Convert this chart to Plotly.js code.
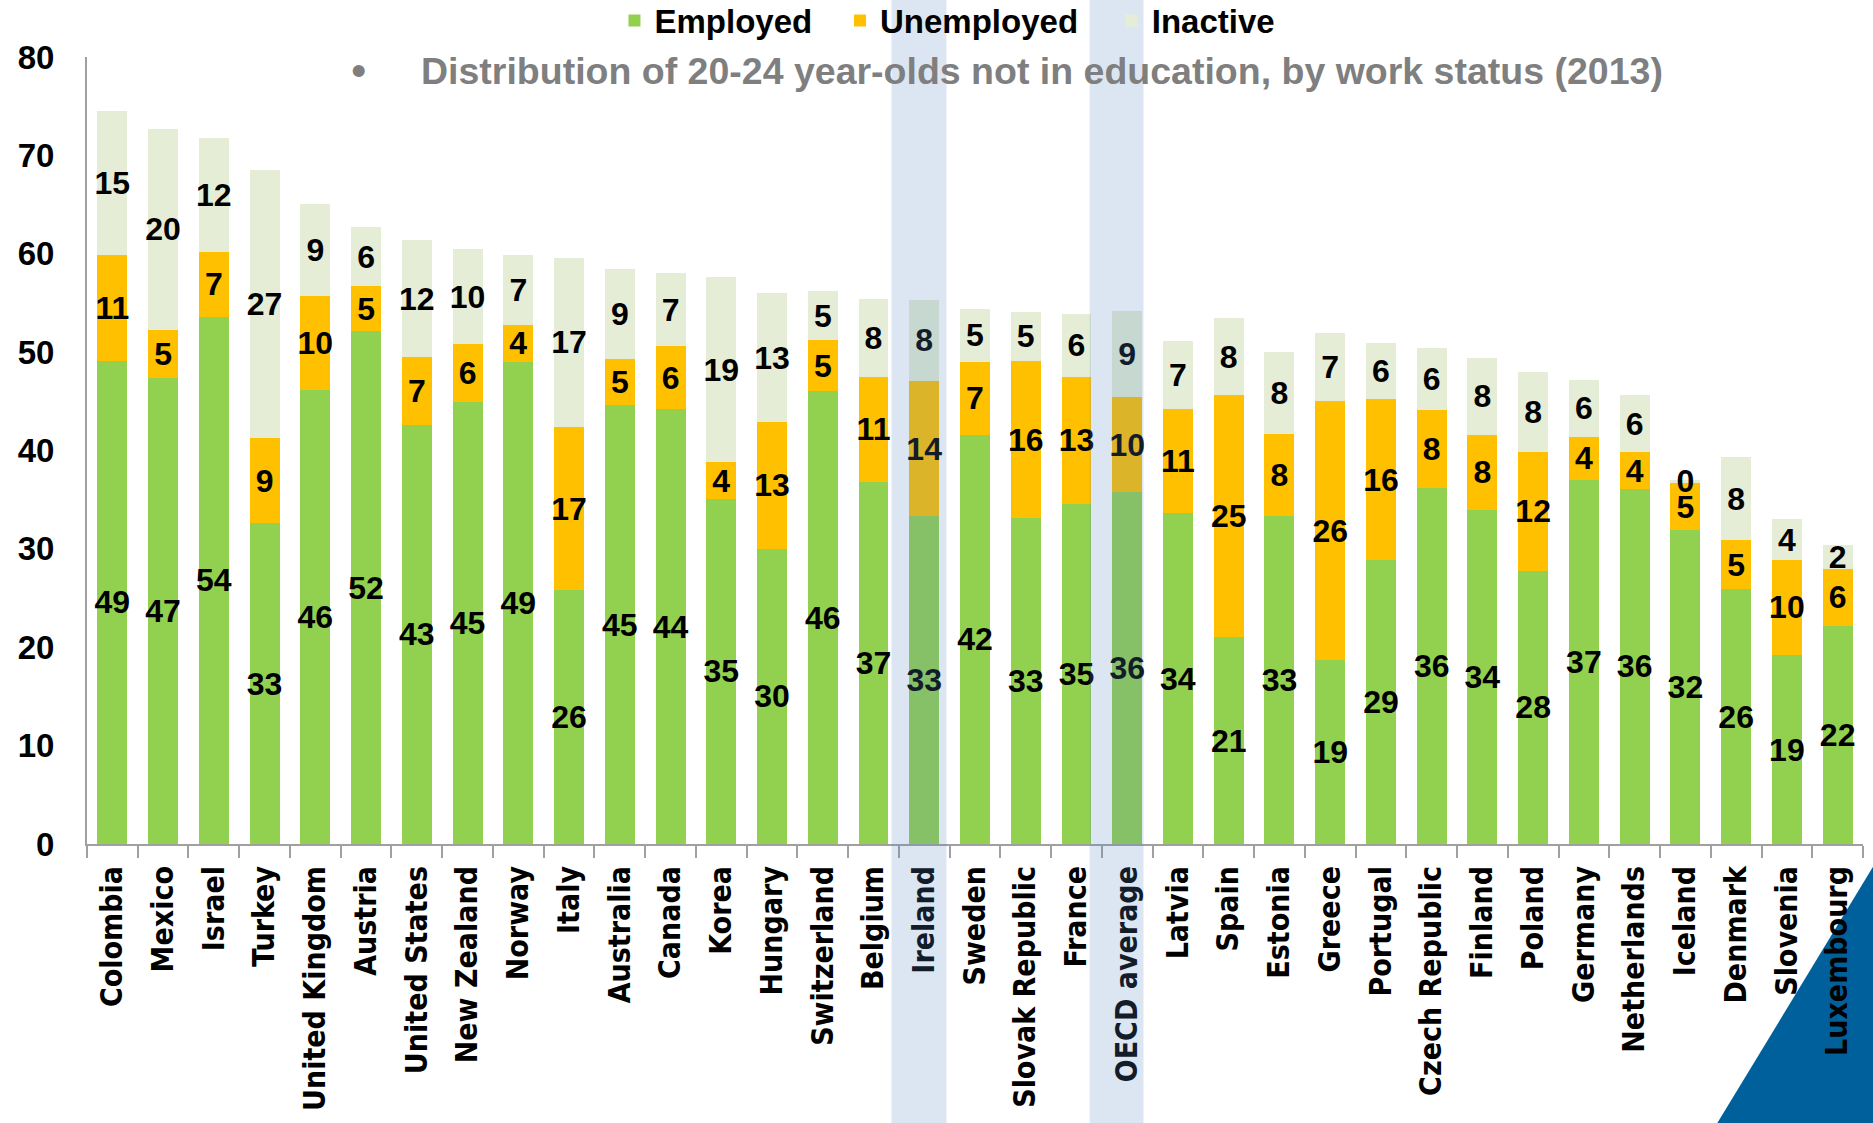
<!DOCTYPE html>
<html>
<head>
<meta charset="utf-8">
<script src="https://cdn.plot.ly/plotly-3.0.1.min.js"></script>
<style>
  html, body { margin: 0; padding: 0; background: #ffffff; }
  #chart { width: 1873px; height: 1123px; }
</style>
</head>
<body>
<div id="chart"></div>
<script>
const categories = ['Colombia','Mexico','Israel','Turkey','United Kingdom','Austria','United States','New Zealand','Norway','Italy','Australia','Canada','Korea','Hungary','Switzerland','Belgium','Ireland','Sweden','Slovak Republic','France','OECD average','Latvia','Spain','Estonia','Greece','Portugal','Czech Republic','Finland','Poland','Germany','Netherlands','Iceland','Denmark','Slovenia','Luxembourg'];
const employed   = [49.1,47.4,53.6,32.6,46.1,52.1,42.6,44.9,49.0,25.8,44.6,44.2,35.1,30.0,46.0,36.8,33.3,41.6,33.1,34.6,35.8,33.6,21.0,33.3,18.7,28.9,36.2,34.0,27.8,37.0,36.1,31.9,25.9,19.2,22.2];
const unemployed = [10.8,4.9,6.6,8.7,9.6,4.6,6.9,5.9,3.8,16.6,4.7,6.4,3.7,12.9,5.2,10.7,13.8,7.4,16.0,12.9,9.6,10.6,24.6,8.4,26.3,16.3,7.9,7.6,12.0,4.4,3.7,4.8,5.0,9.7,5.8];
const inactive   = [14.6,20.4,11.6,27.2,9.4,6.0,11.9,9.7,7.1,17.2,9.1,7.4,18.8,13.1,5.0,7.9,8.2,5.4,5.0,6.4,8.8,6.9,7.9,8.3,6.9,5.7,6.3,7.8,8.2,5.8,5.8,0.3,8.4,4.1,2.4];
const seriesNames = ['Employed','Unemployed','Inactive'];
const yTicks = [0,10,20,30,40,50,60,70,80];
const titleText = 'Distribution of 20-24 year-olds not in education, by work status (2013)';
const highlighted = ['Ireland','OECD average'];

const colors = ['#92d050','#ffc000','#e5edd6'];
const numFont = 'Liberation Sans, Arial, sans-serif';

function barTrace(name, vals, color, legendId) {
  return {
    type: 'bar', name: name, x: categories, y: vals,
    legend: legendId,
    marker: {color: color, line: {width: 0}},
    texttemplate: '%{y:.0f}',
    textposition: 'inside',
    insidetextanchor: 'middle',
    textangle: 0,
    constraintext: 'none',
    insidetextfont: {family: numFont, size: 32, color: '#000000', weight: 'bold'},
    hoverinfo: 'x+y+name'
  };
}

const data = [
  barTrace(seriesNames[0], employed, colors[0], 'legend'),
  barTrace(seriesNames[1], unemployed, colors[1], 'legend2'),
  barTrace(seriesNames[2], inactive, colors[2], 'legend3')
];

const bandOffsets = {'Ireland': [-0.645, 0.437], 'OECD average': [-0.74, 0.32]};
const shapes = highlighted.map(c => {
  const i = categories.indexOf(c);
  return {
    type: 'rect', xref: 'x', yref: 'paper',
    x0: i + bandOffsets[c][0], x1: i + bandOffsets[c][1],
    y0: -0.36, y1: 1.08,
    fillcolor: 'rgba(89,136,193,0.21)', line: {width: 0}, layer: 'above'
  };
});
shapes.push({
  type: 'path', xref: 'paper', yref: 'paper',
  path: 'M 0.9165,-0.36 L 1.0057,-0.0288 L 1.0057,-0.36 Z',
  fillcolor: '#00609c', line: {width: 0}, layer: 'below'
});

function legendBox(x) {
  return {
    orientation: 'h', x: x, xanchor: 'left', y: 1.082, yanchor: 'top',
    font: {family: numFont, size: 33, color: '#000000', weight: 'bold'},
    bgcolor: 'rgba(0,0,0,0)', borderwidth: 0
  };
}

const layout = {
  width: 1873, height: 1123,
  margin: {l: 87, r: 10, t: 57, b: 279, pad: 0, autoexpand: false},
  paper_bgcolor: '#ffffff', plot_bgcolor: '#ffffff',
  barmode: 'stack', bargap: 0.41,
  showlegend: true,
  legend: legendBox(0.297),
  legend2: legendBox(0.424),
  legend3: legendBox(0.577),
  title: {
    text: titleText,
    font: {family: 'Liberation Sans Narrow, Liberation Sans, sans-serif', size: 37.5, color: '#7f7f7f', weight: 'bold'},
    xref: 'container', x: 0.5563, xanchor: 'center',
    yref: 'container', y: 0.937, yanchor: 'middle'
  },
  annotations: [{
    xref: 'paper', yref: 'paper', x: 0.1526, y: 0.983,
    text: '•', showarrow: false, xanchor: 'center', yanchor: 'middle',
    font: {family: numFont, size: 44, color: '#7f7f7f'}
  }],
  xaxis: {
    type: 'category', categoryorder: 'array', categoryarray: categories,
    tickson: 'boundaries', ticks: 'outside', ticklen: 12, tickwidth: 2, tickcolor: '#a0a0a0',
    showline: true, linecolor: '#a0a0a0', linewidth: 2,
    showgrid: false, zeroline: false,
    tickangle: -90,
    tickfont: {family: 'DejaVu Sans Condensed, DejaVu Sans, sans-serif', size: 30, color: '#000000', weight: 'bold'},
    ticklabelstandoff: 8,
    automargin: false,
    fixedrange: true
  },
  yaxis: {
    range: [0, 80], tickvals: yTicks, ticktext: yTicks.map(String),
    showline: true, linecolor: '#a0a0a0', linewidth: 2,
    showgrid: false, zeroline: false,
    ticks: '', ticklabelstandoff: 24,
    tickfont: {family: numFont, size: 33, color: '#000000', weight: 'bold'},
    automargin: false,
    fixedrange: true
  },
  shapes: shapes
};

Plotly.newPlot('chart', data, layout, {displayModeBar: false, responsive: false});
</script>
</body>
</html>
